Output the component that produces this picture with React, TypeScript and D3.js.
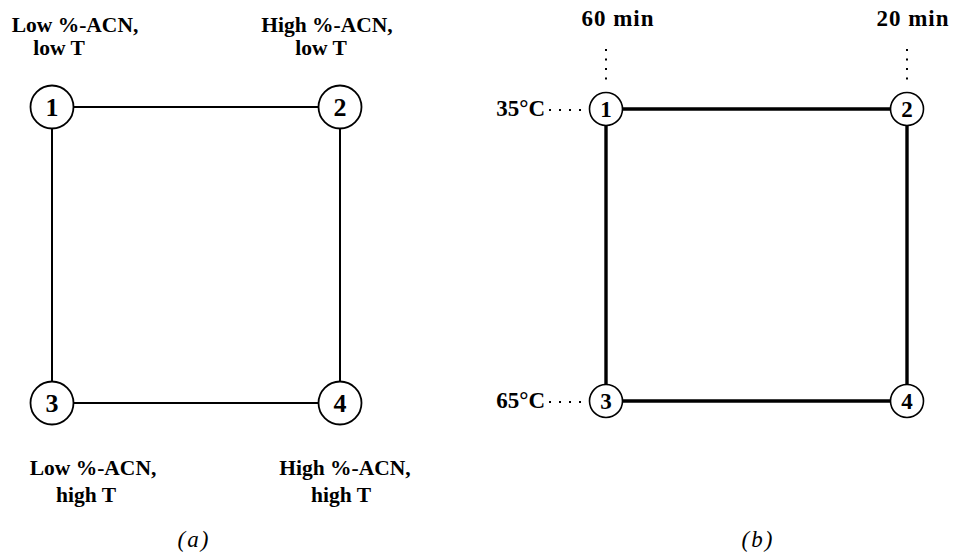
import * as d3 from 'd3';
import React, { useEffect, useRef } from 'react';

// factor levels for panel (a)
const acnLevels = ['Low %-ACN,', 'High %-ACN,'];
const tempLevelsA = ['low T', 'high T'];
// factor levels for panel (b)
const timeLevels = ['60 min', '20 min'];
const tempLevelsB = ['35°C', '65°C'];

// corner runs of the 2x2 design: [x level, y level]
const runIds = [1, 2, 3, 4];
const runX = [0, 1, 0, 1];
const runY = [0, 0, 1, 1];
// edges between runs
const edges: [number, number][] = [
  [0, 1],
  [0, 2],
  [1, 3],
  [2, 3],
];

export default function App() {
  const ref = useRef<SVGSVGElement>(null);

  useEffect(() => {
    if (!ref.current) return;
    const svg = d3.select(ref.current);
    svg.selectAll('*').remove();

    const serif = '"Liberation Serif", "Times New Roman", serif';

    // ---------- panel (a) ----------
    const xa = d3.scaleLinear().domain([0, 1]).range([52, 340]);
    const ya = d3.scaleLinear().domain([0, 1]).range([107, 403]);
    const ga = svg.append('g');

    ga.selectAll('line.edge')
      .data(edges)
      .enter()
      .append('line')
      .attr('x1', d => xa(runX[d[0]]))
      .attr('y1', d => ya(runY[d[0]]))
      .attr('x2', d => xa(runX[d[1]]))
      .attr('y2', d => ya(runY[d[1]]))
      .attr('stroke', '#000')
      .attr('stroke-width', 2);

    const na = ga
      .selectAll('g.node')
      .data(runIds)
      .enter()
      .append('g')
      .attr('transform', (d, i) => `translate(${xa(runX[i])},${ya(runY[i])})`);
    na.append('circle')
      .attr('r', 21.5)
      .attr('fill', '#fff')
      .attr('stroke', '#000')
      .attr('stroke-width', 1.8);
    na.append('text')
      .attr('text-anchor', 'middle')
      .attr('dy', '0.35em')
      .style('font-family', serif)
      .style('font-weight', 'bold')
      .style('font-size', '26px')
      .text(d => d);

    // corner labels
    const labelTop = [
      { x: 75, line1: acnLevels[0], x2: 59, line2: tempLevelsA[0] },
      { x: 327, line1: acnLevels[1], x2: 321, line2: tempLevelsA[0] },
    ];
    const labelBottom = [
      { x: 93, line1: acnLevels[0], x2: 86, line2: tempLevelsA[1] },
      { x: 345, line1: acnLevels[1], x2: 341, line2: tempLevelsA[1] },
    ];
    const addLabel = (
      l: { x: number; line1: string; x2: number; line2: string },
      y1: number,
      y2: number
    ) => {
      ga.append('text')
        .attr('x', l.x)
        .attr('y', y1)
        .attr('text-anchor', 'middle')
        .style('font-family', serif)
        .style('font-weight', 'bold')
        .style('font-size', '21.5px')
        .text(l.line1);
      ga.append('text')
        .attr('x', l.x2)
        .attr('y', y2)
        .attr('text-anchor', 'middle')
        .style('font-family', serif)
        .style('font-weight', 'bold')
        .style('font-size', '21.5px')
        .text(l.line2);
    };
    labelTop.forEach(l => addLabel(l, 32, 55));
    labelBottom.forEach(l => addLabel(l, 475, 502));

    ga.append('text')
      .attr('x', 194)
      .attr('y', 547)
      .attr('text-anchor', 'middle')
      .style('font-family', serif)
      .style('font-style', 'italic')
      .style('font-size', '23px')
      .attr('letter-spacing', 2)
      .text('(a)');

    // ---------- panel (b) ----------
    const xb = d3.scaleLinear().domain([0, 1]).range([606, 907]);
    const yb = d3.scaleLinear().domain([0, 1]).range([109, 401]);
    const gb = svg.append('g');

    gb.selectAll('line.edge')
      .data(edges)
      .enter()
      .append('line')
      .attr('x1', d => xb(runX[d[0]]))
      .attr('y1', d => yb(runY[d[0]]))
      .attr('x2', d => xb(runX[d[1]]))
      .attr('y2', d => yb(runY[d[1]]))
      .attr('stroke', '#000')
      .attr('stroke-width', 3.4);

    // dotted guides to the level labels
    gb.selectAll('line.vguide')
      .data(timeLevels)
      .enter()
      .append('line')
      .attr('x1', (d, i) => xb(i))
      .attr('x2', (d, i) => xb(i))
      .attr('y1', 49)
      .attr('y2', 80)
      .attr('stroke', '#000')
      .attr('stroke-width', 2)
      .attr('stroke-dasharray', '2 7.5');
    gb.selectAll('line.hguide')
      .data(tempLevelsB)
      .enter()
      .append('line')
      .attr('x1', 549)
      .attr('x2', 588)
      .attr('y1', (d, i) => yb(i) + 1)
      .attr('y2', (d, i) => yb(i) + 1)
      .attr('stroke', '#000')
      .attr('stroke-width', 2)
      .attr('stroke-dasharray', '2 8');

    gb.selectAll('text.time')
      .data(timeLevels)
      .enter()
      .append('text')
      .attr('x', (d, i) => xb(i) + (i === 0 ? 12 : 6))
      .attr('y', 26)
      .attr('text-anchor', 'middle')
      .style('font-family', serif)
      .style('font-weight', 'bold')
      .style('font-size', '23px')
      .attr('letter-spacing', 1)
      .text(d => d);
    gb.selectAll('text.temp')
      .data(tempLevelsB)
      .enter()
      .append('text')
      .attr('x', 545)
      .attr('y', (d, i) => yb(i) + 7)
      .attr('text-anchor', 'end')
      .style('font-family', serif)
      .style('font-weight', 'bold')
      .style('font-size', '23px')
      .text(d => d);

    const nb = gb
      .selectAll('g.node')
      .data(runIds)
      .enter()
      .append('g')
      .attr('transform', (d, i) => `translate(${xb(runX[i])},${yb(runY[i])})`);
    nb.append('circle')
      .attr('r', 16.5)
      .attr('fill', '#fff')
      .attr('stroke', '#000')
      .attr('stroke-width', 1.6);
    nb.append('text')
      .attr('text-anchor', 'middle')
      .attr('dy', '0.35em')
      .style('font-family', serif)
      .style('font-weight', 'bold')
      .style('font-size', '23px')
      .text(d => d);

    gb.append('text')
      .attr('x', 758)
      .attr('y', 547)
      .attr('text-anchor', 'middle')
      .style('font-family', serif)
      .style('font-style', 'italic')
      .style('font-size', '23px')
      .attr('letter-spacing', 2)
      .text('(b)');
  }, []);

  return (
    <svg
      ref={ref}
      width={954}
      height={554}
      style={{ position: 'absolute', left: 0, top: 0, background: '#fff' }}
    />
  );
}
